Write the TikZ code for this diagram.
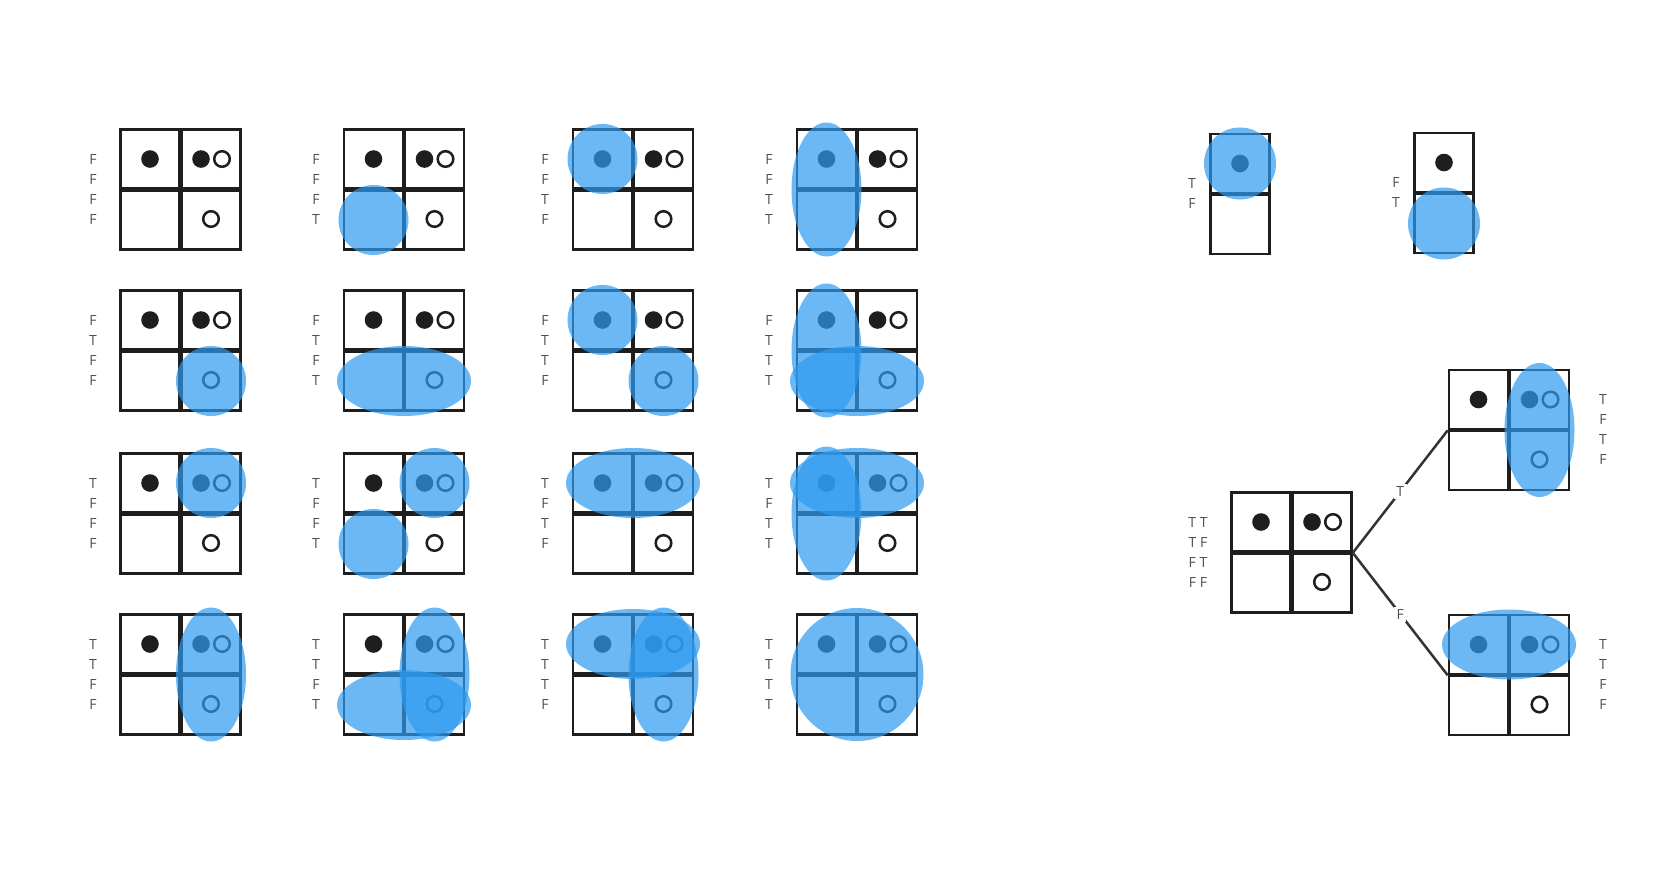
\documentclass[tikz,border=0pt]{standalone}
\usepackage{fontspec}
\setmainfont{Open Sans}
\definecolor{ink}{HTML}{1E1E1E}
\definecolor{lbl}{HTML}{505050}
\definecolor{blob}{RGB}{45,155,240}
\definecolor{edge}{HTML}{333333}
\tikzset{
  cell/.style={rectangle, draw=ink, line width=2.6, minimum size=59, inner sep=0},
  fdot/.style={circle, fill=ink, minimum size=17.6, inner sep=0},
  odot/.style={circle, draw=ink, line width=2.5, minimum size=15.6, inner sep=0},
  lab/.style={text=lbl, font=\fontsize{14}{16}\selectfont, inner sep=0},
  edgelab/.style={lab, fill=white, inner sep=2.5},
  blobfill/.style={fill=blob, fill opacity=0.7},
  branch/.style={draw=edge, line width=2.5},
}
% panel: name, x0, y0
\newcommand\kpanel[3]{%
  \node[cell] (#1-tl) at (#2+30,#3+30) {};
  \node[cell] (#1-tr) at (#2+91,#3+30) {};
  \node[cell] (#1-bl) at (#2+30,#3+91) {};
  \node[cell] (#1-br) at (#2+91,#3+91) {};
  \node[fdot] (#1-d1) at (#2+30,#3+30) {};
  \node[fdot] (#1-d2) at (#2+81,#3+30) {};
  \node[odot] (#1-d3) at (#2+102,#3+30) {};
  \node[odot] (#1-d4) at (#2+91,#3+90) {};
}
% labels: name, x, y0, four texts
\newcommand\klabels[7]{%
  \node[lab] (#1-l1) at (#2,#3+30) {#4};
  \node[lab] (#1-l2) at (#2,#3+50) {#5};
  \node[lab] (#1-l3) at (#2,#3+70) {#6};
  \node[lab] (#1-l4) at (#2,#3+90) {#7};
}
% blobs relative to panel origin
\newcommand\bTL[2]{\fill[blobfill] (#1+30,#2+30) circle[radius=35];}
\newcommand\bTR[2]{\fill[blobfill] (#1+91,#2+30) circle[radius=35];}
\newcommand\bBL[2]{\fill[blobfill] (#1+30,#2+91) circle[radius=35];}
\newcommand\bBR[2]{\fill[blobfill] (#1+91,#2+91) circle[radius=35];}
\newcommand\bTop[2]{\fill[blobfill] (#1+60.5,#2+30) ellipse[x radius=67, y radius=35];}
\newcommand\bBot[2]{\fill[blobfill] (#1+60.5,#2+91) ellipse[x radius=67, y radius=35];}
\newcommand\bLeft[2]{\fill[blobfill] (#1+30,#2+60.5) ellipse[x radius=35, y radius=67];}
\newcommand\bRight[2]{\fill[blobfill] (#1+91,#2+60.5) ellipse[x radius=35, y radius=67];}
\newcommand\bAll[2]{\fill[blobfill] (#1+60.5,#2+60.5) circle[radius=66.5];}
\begin{document}
\begin{tikzpicture}[x=1pt, y=-1pt]
\useasboundingbox (0,0) rectangle (1668,871);
\fill[white] (0,0) rectangle (1668,871);
% ---------- row 1 ----------
\kpanel{p11}{120}{129}   \klabels{p11}{93}{129}{F}{F}{F}{F}
\kpanel{p12}{343.5}{129} \klabels{p12}{316}{129}{F}{F}{F}{T} \bBL{343.5}{129}
\kpanel{p13}{572.5}{129} \klabels{p13}{545}{129}{F}{F}{T}{F} \bTL{572.5}{129}
\kpanel{p14}{796.5}{129} \klabels{p14}{769}{129}{F}{F}{T}{T} \bLeft{796.5}{129}
% ---------- row 2 ----------
\kpanel{p21}{120}{290}   \klabels{p21}{93}{290}{F}{T}{F}{F} \bBR{120}{290}
\kpanel{p22}{343.5}{290} \klabels{p22}{316}{290}{F}{T}{F}{T} \bBot{343.5}{290}
\kpanel{p23}{572.5}{290} \klabels{p23}{545}{290}{F}{T}{T}{F} \bTL{572.5}{290} \bBR{572.5}{290}
\kpanel{p24}{796.5}{290} \klabels{p24}{769}{290}{F}{T}{T}{T} \bLeft{796.5}{290} \bBot{796.5}{290}
% ---------- row 3 ----------
\kpanel{p31}{120}{453}   \klabels{p31}{93}{453}{T}{F}{F}{F} \bTR{120}{453}
\kpanel{p32}{343.5}{453} \klabels{p32}{316}{453}{T}{F}{F}{T} \bTR{343.5}{453} \bBL{343.5}{453}
\kpanel{p33}{572.5}{453} \klabels{p33}{545}{453}{T}{F}{T}{F} \bTop{572.5}{453}
\kpanel{p34}{796.5}{453} \klabels{p34}{769}{453}{T}{F}{T}{T} \bTop{796.5}{453} \bLeft{796.5}{453}
% ---------- row 4 ----------
\kpanel{p41}{120}{614}   \klabels{p41}{93}{614}{T}{T}{F}{F} \bRight{120}{614}
\kpanel{p42}{343.5}{614} \klabels{p42}{316}{614}{T}{T}{F}{T} \bRight{343.5}{614} \bBot{343.5}{614}
\kpanel{p43}{572.5}{614} \klabels{p43}{545}{614}{T}{T}{T}{F} \bTop{572.5}{614} \bRight{572.5}{614}
\kpanel{p44}{796.5}{614} \klabels{p44}{769}{614}{T}{T}{T}{T} \bAll{796.5}{614}
% ---------- small single-column panels ----------
\node[cell] (s1-t) at (1240,163.5) {};
\node[cell] (s1-b) at (1240,224.5) {};
\node[fdot] (s1-d) at (1240,163.5) {};
\fill[blobfill] (1240,163.5) circle[radius=36];
\node[lab] (s1-l1) at (1192,183.5) {T};
\node[lab] (s1-l2) at (1192,203.5) {F};
\node[cell] (s2-t) at (1444,162.5) {};
\node[cell] (s2-b) at (1444,223.5) {};
\node[fdot] (s2-d) at (1444,162.5) {};
\fill[blobfill] (1444,223.5) circle[radius=36];
\node[lab] (s2-l1) at (1396,182.5) {F};
\node[lab] (s2-l2) at (1396,202.5) {T};
% ---------- tree ----------
\kpanel{root}{1231}{492}
\klabels{root}{1198}{492}{T T}{T F}{F T}{F F}
\kpanel{tt}{1448.5}{369.5}
\klabels{tt}{1603}{369.5}{T}{F}{T}{F}
\bRight{1448.5}{369.5}
\kpanel{bt}{1448.5}{614.5}
\klabels{bt}{1603}{614.5}{T}{T}{F}{F}
\bTop{1448.5}{614.5}
\coordinate (fork) at (root-tr.south east);
\draw[branch] (fork) -- node[edgelab] (eT) {T} (tt-tl.south west);
\draw[branch] (fork) -- node[edgelab] (eF) {F} (bt-tl.south west);
\end{tikzpicture}
\end{document}
